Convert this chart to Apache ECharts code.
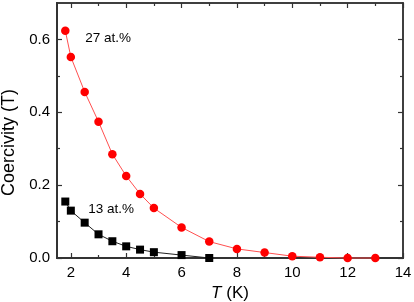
<!DOCTYPE html>
<html><head><meta charset="utf-8">
<script src="https://cdn.jsdelivr.net/npm/echarts@6/dist/echarts.min.js"></script>
<style>html,body{margin:0;padding:0;background:#fff}#c{width:414px;height:302px}</style>
</head><body><div id="c"></div>
<script>
const xRed = [1.8, 2, 2.5, 3, 3.5, 4, 4.5, 5, 6, 7, 8, 9, 10, 11, 12, 13];
const yRed = [0.624, 0.552, 0.456, 0.374, 0.285, 0.225, 0.176, 0.137, 0.084, 0.045, 0.025, 0.015, 0.005, 0.002, 0.0, 0.0];
const xBlack = [1.8, 2, 2.5, 3, 3.5, 4, 4.5, 5, 6, 7];
const yBlack = [0.155, 0.13, 0.097, 0.065, 0.046, 0.032, 0.023, 0.016, 0.008, 0.0];
const xMajor = [2, 4, 6, 8, 10, 12, 14];
const xMinor = [3, 5, 7, 9, 11, 13];
const yMajor = [0, 0.2, 0.4, 0.6];
const yMinor = [0.1, 0.3, 0.5];
const annoText = ['27 at.%', '13 at.%'];
const annoX = [2.52, 2.63];
const annoY = [0.602, 0.135];

const FONT = 'Liberation Sans, Arial, sans-serif';
const AX = '#333';

function xAx(pos, vals, len, labels, name, lineW) {
  return {
    type: 'value', position: pos, min: 1.5, max: 14,
    axisLine: {show: true, onZero: false, lineStyle: {color: AX, width: lineW}},
    axisTick: {show: true, inside: true, length: len, customValues: vals, lineStyle: {color: AX, width: 1.2}},
    axisLabel: labels ? {show: true, customValues: xMajor, margin: 7, color: '#000', fontSize: 15, fontFamily: FONT, formatter: v => String(v)} : {show: false},
    splitLine: {show: false},
    name: name || '', nameLocation: 'middle', nameGap: 22,
    nameTextStyle: {color: '#000', fontSize: 17, fontFamily: FONT, rich: {i: {fontStyle: 'italic', fontSize: 17, fontFamily: FONT, color: '#000'}}}
  };
}
function yAx(pos, vals, len, labels, name, lineW) {
  return {
    type: 'value', position: pos, min: 0, max: 0.7,
    axisLine: {show: true, onZero: false, lineStyle: {color: AX, width: lineW}},
    axisTick: {show: true, inside: true, length: len, customValues: vals, lineStyle: {color: AX, width: 1.2}},
    axisLabel: labels ? {show: true, customValues: yMajor, margin: 7, color: '#000', fontSize: 15, fontFamily: FONT, formatter: v => v.toFixed(1)} : {show: false},
    splitLine: {show: false},
    name: name || '', nameLocation: 'middle', nameGap: 32,
    nameTextStyle: {color: '#000', fontSize: 18, fontFamily: FONT, padding: [0, 24, 0, 0]}
  };
}

const chart = echarts.init(document.getElementById('c'), null, {renderer: 'canvas'});
chart.setOption({
  animation: false,
  backgroundColor: '#fff',
  grid: {left: 57, right: 11, top: 3, bottom: 44, containLabel: false, outerBoundsMode: 'none'},
  xAxis: [
    xAx('bottom', xMajor, 5, true, '{i|T} (K)', 2),
    xAx('bottom', xMinor, 3, false, '', 2),
    xAx('top', xMajor, 5, false, '', 1.5),
    xAx('top', xMinor, 3, false, '', 1.5)
  ],
  yAxis: [
    yAx('left', yMajor, 5, true, 'Coercivity (T)', 2),
    yAx('left', yMinor, 3, false, '', 2),
    yAx('right', yMajor, 5, false, '', 1.5),
    yAx('right', yMinor, 3, false, '', 1.5)
  ],
  series: [
    {
      type: 'line', xAxisIndex: 0, yAxisIndex: 0, clip: false,
      data: xBlack.map((x, i) => [x, yBlack[i]]),
      symbol: 'rect', symbolSize: 8,
      itemStyle: {color: '#000'},
      lineStyle: {color: '#222', width: 1},
      z: 3
    },
    {
      type: 'line', xAxisIndex: 0, yAxisIndex: 0, clip: false,
      data: xRed.map((x, i) => [x, yRed[i]]),
      symbol: 'circle', symbolSize: 8.5,
      itemStyle: {color: '#ff0000'},
      lineStyle: {color: '#ff5050', width: 1},
      z: 4
    },
    {
      type: 'scatter', xAxisIndex: 0, yAxisIndex: 0, symbolSize: 0,
      data: annoX.map((x, i) => ({value: [x, annoY[i]], name: annoText[i]})),
      label: {show: true, position: 'right', distance: 0, formatter: p => p.name, color: '#000', opacity: 1, fontSize: 13.5, fontFamily: FONT},
      itemStyle: {opacity: 1},
      silent: true, z: 5
    }
  ]
});
</script></body></html>
